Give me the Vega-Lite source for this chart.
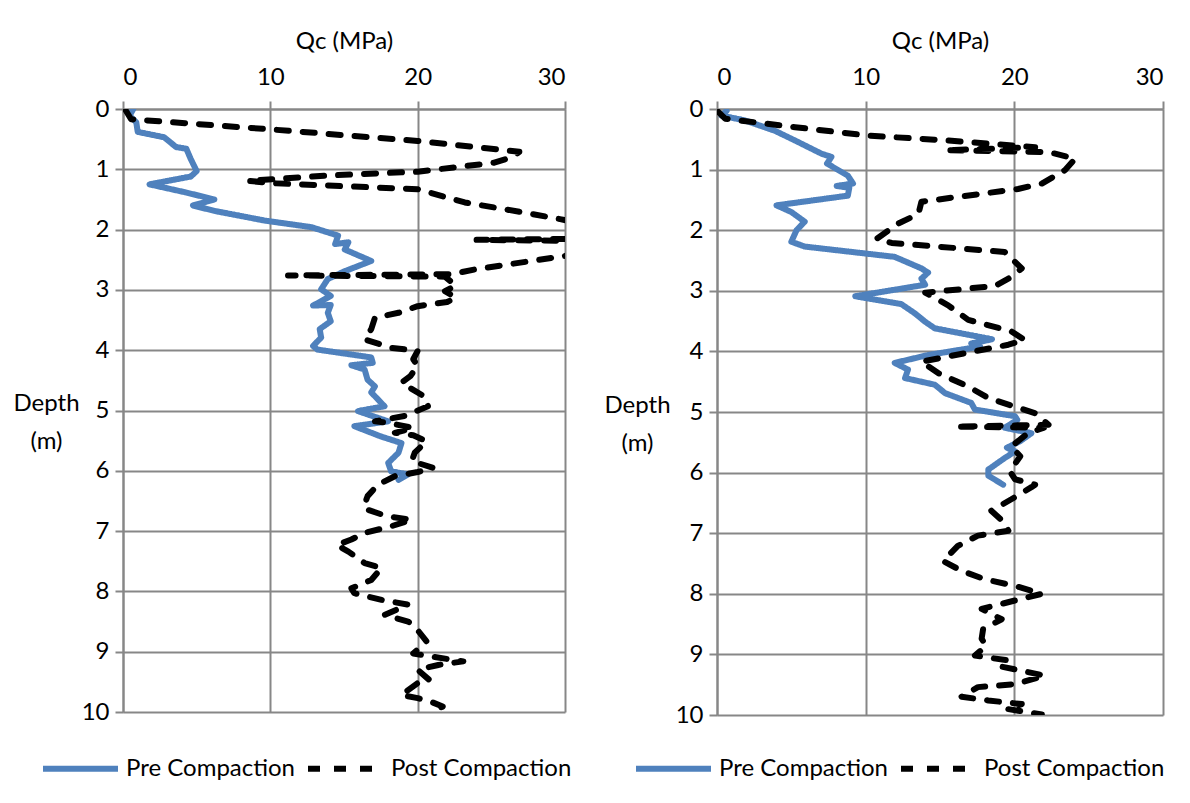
{
  "$schema": "https://vega.github.io/schema/vega-lite/v6.json",
  "padding": {"left": 12, "top": 29, "right": 5, "bottom": 5},
  "background": "white",
  "config": {
    "font": "Lato",
    "view": {"stroke": null},
    "axis": {
      "labelFont": "Lato", "labelFontSize": 24, "labelColor": "#000000",
      "titleFont": "Lato", "titleFontSize": 24, "titleFontWeight": "normal", "titleColor": "#000000",
      "gridColor": "#878787", "gridWidth": 2, "gridOpacity": 1,
      "domainColor": "#878787", "domainWidth": 2,
      "tickColor": "#878787", "tickWidth": 2, "tickSize": 8
    },
    "legend": {
      "labelFont": "Lato", "labelFontSize": 24, "labelColor": "#000000", "labelLimit": 300
    },
    "concat": {"spacing": 31}
  },
  "datasets": {
    "left": [
      {"s": "Pre Compaction", "q": 0.7, "d": 0},
      {"s": "Pre Compaction", "q": 0.45, "d": 0.11},
      {"s": "Pre Compaction", "q": 0.9, "d": 0.22},
      {"s": "Pre Compaction", "q": 1.0, "d": 0.38},
      {"s": "Pre Compaction", "q": 2.8, "d": 0.47},
      {"s": "Pre Compaction", "q": 3.6, "d": 0.63},
      {"s": "Pre Compaction", "q": 4.3, "d": 0.66},
      {"s": "Pre Compaction", "q": 4.6, "d": 0.83},
      {"s": "Pre Compaction", "q": 5.0, "d": 1.03},
      {"s": "Pre Compaction", "q": 4.6, "d": 1.12},
      {"s": "Pre Compaction", "q": 1.8, "d": 1.25},
      {"s": "Pre Compaction", "q": 4.2, "d": 1.38},
      {"s": "Pre Compaction", "q": 6.2, "d": 1.5},
      {"s": "Pre Compaction", "q": 4.75, "d": 1.6},
      {"s": "Pre Compaction", "q": 6.2, "d": 1.69},
      {"s": "Pre Compaction", "q": 9.6, "d": 1.85},
      {"s": "Pre Compaction", "q": 12.8, "d": 1.96},
      {"s": "Pre Compaction", "q": 14.6, "d": 2.1},
      {"s": "Pre Compaction", "q": 14.4, "d": 2.24},
      {"s": "Pre Compaction", "q": 15.3, "d": 2.21},
      {"s": "Pre Compaction", "q": 15.05, "d": 2.33},
      {"s": "Pre Compaction", "q": 16.85, "d": 2.52},
      {"s": "Pre Compaction", "q": 15.05, "d": 2.69},
      {"s": "Pre Compaction", "q": 13.9, "d": 2.82},
      {"s": "Pre Compaction", "q": 13.45, "d": 2.99},
      {"s": "Pre Compaction", "q": 14.1, "d": 3.1},
      {"s": "Pre Compaction", "q": 12.9, "d": 3.26},
      {"s": "Pre Compaction", "q": 14.1, "d": 3.25},
      {"s": "Pre Compaction", "q": 13.9, "d": 3.38},
      {"s": "Pre Compaction", "q": 14.1, "d": 3.52},
      {"s": "Pre Compaction", "q": 13.35, "d": 3.65},
      {"s": "Pre Compaction", "q": 13.45, "d": 3.79},
      {"s": "Pre Compaction", "q": 12.9, "d": 3.93},
      {"s": "Pre Compaction", "q": 13.2, "d": 3.99},
      {"s": "Pre Compaction", "q": 16.85, "d": 4.12},
      {"s": "Pre Compaction", "q": 16.95, "d": 4.21},
      {"s": "Pre Compaction", "q": 15.5, "d": 4.25},
      {"s": "Pre Compaction", "q": 16.4, "d": 4.32},
      {"s": "Pre Compaction", "q": 16.6, "d": 4.49},
      {"s": "Pre Compaction", "q": 17.1, "d": 4.6},
      {"s": "Pre Compaction", "q": 16.85, "d": 4.7},
      {"s": "Pre Compaction", "q": 17.75, "d": 4.93},
      {"s": "Pre Compaction", "q": 15.95, "d": 5.01},
      {"s": "Pre Compaction", "q": 18.0, "d": 5.18},
      {"s": "Pre Compaction", "q": 15.7, "d": 5.26},
      {"s": "Pre Compaction", "q": 17.5, "d": 5.43},
      {"s": "Pre Compaction", "q": 18.9, "d": 5.54},
      {"s": "Pre Compaction", "q": 18.7, "d": 5.7},
      {"s": "Pre Compaction", "q": 18.0, "d": 5.87},
      {"s": "Pre Compaction", "q": 18.2, "d": 6.01},
      {"s": "Pre Compaction", "q": 19.35, "d": 6.06},
      {"s": "Pre Compaction", "q": 18.7, "d": 6.15},
      {"s": "Post Compaction", "q": 0.2, "d": 0.03},
      {"s": "Post Compaction", "q": 0.55, "d": 0.17},
      {"s": "Post Compaction", "q": 9.6, "d": 0.33},
      {"s": "Post Compaction", "q": 20.0, "d": 0.53},
      {"s": "Post Compaction", "q": 25.0, "d": 0.66},
      {"s": "Post Compaction", "q": 26.9, "d": 0.71},
      {"s": "Post Compaction", "q": 26.4, "d": 0.8},
      {"s": "Post Compaction", "q": 25.2, "d": 0.89},
      {"s": "Post Compaction", "q": 20.0, "d": 1.04},
      {"s": "Post Compaction", "q": 14.1, "d": 1.1},
      {"s": "Post Compaction", "q": 8.5, "d": 1.19},
      {"s": "Post Compaction", "q": 10.05, "d": 1.23},
      {"s": "Post Compaction", "q": 20.0, "d": 1.33},
      {"s": "Post Compaction", "q": 23.2, "d": 1.55},
      {"s": "Post Compaction", "q": 27.3, "d": 1.72},
      {"s": "Post Compaction", "q": 29.75, "d": 1.83},
      {"s": "Post Compaction", "q": 32, "d": 1.95},
      {"s": "Post Compaction", "q": 32, "d": 2.15},
      {"s": "Post Compaction", "q": 24.0, "d": 2.17},
      {"s": "Post Compaction", "q": 32, "d": 2.19},
      {"s": "Post Compaction", "q": 32, "d": 2.35},
      {"s": "Post Compaction", "q": 29.9, "d": 2.44},
      {"s": "Post Compaction", "q": 23.9, "d": 2.66},
      {"s": "Post Compaction", "q": 22.3, "d": 2.74},
      {"s": "Post Compaction", "q": 11.2, "d": 2.76},
      {"s": "Post Compaction", "q": 21.85, "d": 2.78},
      {"s": "Post Compaction", "q": 22.6, "d": 2.93},
      {"s": "Post Compaction", "q": 21.85, "d": 3.02},
      {"s": "Post Compaction", "q": 22.6, "d": 3.13},
      {"s": "Post Compaction", "q": 22.0, "d": 3.2},
      {"s": "Post Compaction", "q": 20.0, "d": 3.27},
      {"s": "Post Compaction", "q": 18.7, "d": 3.38},
      {"s": "Post Compaction", "q": 17.1, "d": 3.46},
      {"s": "Post Compaction", "q": 16.85, "d": 3.65},
      {"s": "Post Compaction", "q": 16.4, "d": 3.82},
      {"s": "Post Compaction", "q": 18.2, "d": 3.96},
      {"s": "Post Compaction", "q": 20.0, "d": 4.01},
      {"s": "Post Compaction", "q": 19.7, "d": 4.15},
      {"s": "Post Compaction", "q": 20.0, "d": 4.26},
      {"s": "Post Compaction", "q": 19.5, "d": 4.43},
      {"s": "Post Compaction", "q": 18.9, "d": 4.54},
      {"s": "Post Compaction", "q": 20.6, "d": 4.79},
      {"s": "Post Compaction", "q": 20.7, "d": 4.93},
      {"s": "Post Compaction", "q": 19.1, "d": 5.09},
      {"s": "Post Compaction", "q": 17.1, "d": 5.18},
      {"s": "Post Compaction", "q": 17.9, "d": 5.2},
      {"s": "Post Compaction", "q": 19.7, "d": 5.29},
      {"s": "Post Compaction", "q": 18.45, "d": 5.37},
      {"s": "Post Compaction", "q": 19.7, "d": 5.41},
      {"s": "Post Compaction", "q": 20.6, "d": 5.51},
      {"s": "Post Compaction", "q": 19.8, "d": 5.7},
      {"s": "Post Compaction", "q": 19.6, "d": 5.84},
      {"s": "Post Compaction", "q": 21.05, "d": 5.95},
      {"s": "Post Compaction", "q": 20.0, "d": 6.02},
      {"s": "Post Compaction", "q": 18.45, "d": 6.09},
      {"s": "Post Compaction", "q": 17.3, "d": 6.23},
      {"s": "Post Compaction", "q": 16.6, "d": 6.42},
      {"s": "Post Compaction", "q": 16.4, "d": 6.56},
      {"s": "Post Compaction", "q": 16.4, "d": 6.63},
      {"s": "Post Compaction", "q": 18.0, "d": 6.76},
      {"s": "Post Compaction", "q": 19.6, "d": 6.81},
      {"s": "Post Compaction", "q": 18.2, "d": 6.92},
      {"s": "Post Compaction", "q": 16.4, "d": 7.03},
      {"s": "Post Compaction", "q": 15.5, "d": 7.14},
      {"s": "Post Compaction", "q": 14.5, "d": 7.23},
      {"s": "Post Compaction", "q": 15.3, "d": 7.34},
      {"s": "Post Compaction", "q": 16.4, "d": 7.53},
      {"s": "Post Compaction", "q": 17.55, "d": 7.61},
      {"s": "Post Compaction", "q": 16.85, "d": 7.81},
      {"s": "Post Compaction", "q": 15.5, "d": 7.95},
      {"s": "Post Compaction", "q": 15.7, "d": 8.03},
      {"s": "Post Compaction", "q": 17.55, "d": 8.14},
      {"s": "Post Compaction", "q": 19.35, "d": 8.22},
      {"s": "Post Compaction", "q": 17.75, "d": 8.39},
      {"s": "Post Compaction", "q": 19.35, "d": 8.5},
      {"s": "Post Compaction", "q": 19.8, "d": 8.58},
      {"s": "Post Compaction", "q": 20.6, "d": 8.83},
      {"s": "Post Compaction", "q": 19.7, "d": 9.03},
      {"s": "Post Compaction", "q": 20.9, "d": 9.08},
      {"s": "Post Compaction", "q": 23.1, "d": 9.16},
      {"s": "Post Compaction", "q": 21.4, "d": 9.22},
      {"s": "Post Compaction", "q": 20.0, "d": 9.3},
      {"s": "Post Compaction", "q": 20.8, "d": 9.47},
      {"s": "Post Compaction", "q": 20.0, "d": 9.52},
      {"s": "Post Compaction", "q": 18.9, "d": 9.72},
      {"s": "Post Compaction", "q": 20.0, "d": 9.77},
      {"s": "Post Compaction", "q": 20.9, "d": 9.83},
      {"s": "Post Compaction", "q": 21.7, "d": 9.91},
      {"s": "Post Compaction", "q": 21.05, "d": 9.97}
    ],
    "right": [
      {"s": "Pre Compaction", "q": 0.65, "d": 0.03},
      {"s": "Pre Compaction", "q": 0.3, "d": 0.11},
      {"s": "Pre Compaction", "q": 1.9, "d": 0.19},
      {"s": "Pre Compaction", "q": 3.9, "d": 0.36},
      {"s": "Pre Compaction", "q": 5.25, "d": 0.52},
      {"s": "Pre Compaction", "q": 7.05, "d": 0.74},
      {"s": "Pre Compaction", "q": 7.7, "d": 0.79},
      {"s": "Pre Compaction", "q": 7.4, "d": 0.9},
      {"s": "Pre Compaction", "q": 8.8, "d": 1.1},
      {"s": "Pre Compaction", "q": 9.15, "d": 1.23},
      {"s": "Pre Compaction", "q": 8.05, "d": 1.27},
      {"s": "Pre Compaction", "q": 8.9, "d": 1.3},
      {"s": "Pre Compaction", "q": 8.8, "d": 1.43},
      {"s": "Pre Compaction", "q": 4.0, "d": 1.59},
      {"s": "Pre Compaction", "q": 5.0, "d": 1.7},
      {"s": "Pre Compaction", "q": 5.9, "d": 1.86},
      {"s": "Pre Compaction", "q": 5.35, "d": 2.0},
      {"s": "Pre Compaction", "q": 5.0, "d": 2.19},
      {"s": "Pre Compaction", "q": 5.9, "d": 2.27},
      {"s": "Pre Compaction", "q": 11.95, "d": 2.44},
      {"s": "Pre Compaction", "q": 13.75, "d": 2.63},
      {"s": "Pre Compaction", "q": 14.2, "d": 2.7},
      {"s": "Pre Compaction", "q": 13.75, "d": 2.8},
      {"s": "Pre Compaction", "q": 14.0, "d": 2.9},
      {"s": "Pre Compaction", "q": 9.3, "d": 3.09},
      {"s": "Pre Compaction", "q": 12.4, "d": 3.22},
      {"s": "Pre Compaction", "q": 13.3, "d": 3.37},
      {"s": "Pre Compaction", "q": 14.0, "d": 3.51},
      {"s": "Pre Compaction", "q": 14.65, "d": 3.62},
      {"s": "Pre Compaction", "q": 18.5, "d": 3.8},
      {"s": "Pre Compaction", "q": 17.1, "d": 3.87},
      {"s": "Pre Compaction", "q": 17.7, "d": 3.92},
      {"s": "Pre Compaction", "q": 14.2, "d": 4.06},
      {"s": "Pre Compaction", "q": 11.95, "d": 4.19},
      {"s": "Pre Compaction", "q": 12.85, "d": 4.3},
      {"s": "Pre Compaction", "q": 12.65, "d": 4.44},
      {"s": "Pre Compaction", "q": 14.65, "d": 4.55},
      {"s": "Pre Compaction", "q": 15.35, "d": 4.69},
      {"s": "Pre Compaction", "q": 17.1, "d": 4.85},
      {"s": "Pre Compaction", "q": 17.35, "d": 4.96},
      {"s": "Pre Compaction", "q": 20.05, "d": 5.07},
      {"s": "Pre Compaction", "q": 20.2, "d": 5.13},
      {"s": "Pre Compaction", "q": 19.35, "d": 5.26},
      {"s": "Pre Compaction", "q": 21.15, "d": 5.35},
      {"s": "Pre Compaction", "q": 20.4, "d": 5.48},
      {"s": "Pre Compaction", "q": 19.5, "d": 5.59},
      {"s": "Pre Compaction", "q": 20.05, "d": 5.65},
      {"s": "Pre Compaction", "q": 19.35, "d": 5.76},
      {"s": "Pre Compaction", "q": 18.25, "d": 5.95},
      {"s": "Pre Compaction", "q": 18.25, "d": 6.05},
      {"s": "Pre Compaction", "q": 19.25, "d": 6.2},
      {"s": "Post Compaction", "q": 0.1, "d": 0.05},
      {"s": "Post Compaction", "q": 0.55, "d": 0.16},
      {"s": "Post Compaction", "q": 5.25, "d": 0.3},
      {"s": "Post Compaction", "q": 10.2, "d": 0.44},
      {"s": "Post Compaction", "q": 15.55, "d": 0.52},
      {"s": "Post Compaction", "q": 21.4, "d": 0.63},
      {"s": "Post Compaction", "q": 15.35, "d": 0.68},
      {"s": "Post Compaction", "q": 22.3, "d": 0.71},
      {"s": "Post Compaction", "q": 24.1, "d": 0.82},
      {"s": "Post Compaction", "q": 23.4, "d": 1.01},
      {"s": "Post Compaction", "q": 21.85, "d": 1.23},
      {"s": "Post Compaction", "q": 20.25, "d": 1.32},
      {"s": "Post Compaction", "q": 13.75, "d": 1.53},
      {"s": "Post Compaction", "q": 13.55, "d": 1.73},
      {"s": "Post Compaction", "q": 12.2, "d": 1.89},
      {"s": "Post Compaction", "q": 10.75, "d": 2.14},
      {"s": "Post Compaction", "q": 11.75, "d": 2.21},
      {"s": "Post Compaction", "q": 19.35, "d": 2.36},
      {"s": "Post Compaction", "q": 20.5, "d": 2.63},
      {"s": "Post Compaction", "q": 19.6, "d": 2.8},
      {"s": "Post Compaction", "q": 18.7, "d": 2.92},
      {"s": "Post Compaction", "q": 14.0, "d": 3.03},
      {"s": "Post Compaction", "q": 15.55, "d": 3.24},
      {"s": "Post Compaction", "q": 16.9, "d": 3.48},
      {"s": "Post Compaction", "q": 19.8, "d": 3.67},
      {"s": "Post Compaction", "q": 20.7, "d": 3.81},
      {"s": "Post Compaction", "q": 19.6, "d": 3.89},
      {"s": "Post Compaction", "q": 13.75, "d": 4.17},
      {"s": "Post Compaction", "q": 14.9, "d": 4.36},
      {"s": "Post Compaction", "q": 16.9, "d": 4.58},
      {"s": "Post Compaction", "q": 18.25, "d": 4.77},
      {"s": "Post Compaction", "q": 21.4, "d": 5.02},
      {"s": "Post Compaction", "q": 22.3, "d": 5.21},
      {"s": "Post Compaction", "q": 16.0, "d": 5.24},
      {"s": "Post Compaction", "q": 22.0, "d": 5.26},
      {"s": "Post Compaction", "q": 20.9, "d": 5.35},
      {"s": "Post Compaction", "q": 19.8, "d": 5.57},
      {"s": "Post Compaction", "q": 20.4, "d": 5.73},
      {"s": "Post Compaction", "q": 19.7, "d": 5.98},
      {"s": "Post Compaction", "q": 20.05, "d": 6.11},
      {"s": "Post Compaction", "q": 21.4, "d": 6.2},
      {"s": "Post Compaction", "q": 21.15, "d": 6.24},
      {"s": "Post Compaction", "q": 19.8, "d": 6.44},
      {"s": "Post Compaction", "q": 18.45, "d": 6.63},
      {"s": "Post Compaction", "q": 19.35, "d": 6.83},
      {"s": "Post Compaction", "q": 19.6, "d": 6.96},
      {"s": "Post Compaction", "q": 17.55, "d": 7.04},
      {"s": "Post Compaction", "q": 16.2, "d": 7.21},
      {"s": "Post Compaction", "q": 15.2, "d": 7.46},
      {"s": "Post Compaction", "q": 16.45, "d": 7.62},
      {"s": "Post Compaction", "q": 18.0, "d": 7.76},
      {"s": "Post Compaction", "q": 20.05, "d": 7.87},
      {"s": "Post Compaction", "q": 21.85, "d": 8.0},
      {"s": "Post Compaction", "q": 20.05, "d": 8.11},
      {"s": "Post Compaction", "q": 17.8, "d": 8.25},
      {"s": "Post Compaction", "q": 19.15, "d": 8.42},
      {"s": "Post Compaction", "q": 17.9, "d": 8.58},
      {"s": "Post Compaction", "q": 17.8, "d": 8.74},
      {"s": "Post Compaction", "q": 18.1, "d": 8.86},
      {"s": "Post Compaction", "q": 17.35, "d": 9.02},
      {"s": "Post Compaction", "q": 19.6, "d": 9.1},
      {"s": "Post Compaction", "q": 19.1, "d": 9.2},
      {"s": "Post Compaction", "q": 22.05, "d": 9.35},
      {"s": "Post Compaction", "q": 20.05, "d": 9.49},
      {"s": "Post Compaction", "q": 17.55, "d": 9.54},
      {"s": "Post Compaction", "q": 16.45, "d": 9.7},
      {"s": "Post Compaction", "q": 18.25, "d": 9.76},
      {"s": "Post Compaction", "q": 20.5, "d": 9.82},
      {"s": "Post Compaction", "q": 19.5, "d": 9.9},
      {"s": "Post Compaction", "q": 21.85, "d": 9.99}
    ]
  },
  "hconcat": [
    {
      "width": 442,
      "height": 603,
      "data": {"name": "left"},
      "mark": {"type": "line", "strokeWidth": 6, "strokeCap": "round", "strokeJoin": "round", "clip": true},
      "encoding": {
        "x": {"field": "q", "type": "quantitative", "scale": {"domain": [0, 30], "nice": false},
              "axis": {"orient": "top", "values": [0, 10, 20, 30], "title": "Qc (MPa)", "labelPadding": 12, "titlePadding": 12}},
        "y": {"field": "d", "type": "quantitative", "scale": {"domain": [0, 10], "reverse": true, "nice": false},
              "axis": {"values": [0, 1, 2, 3, 4, 5, 6, 7, 8, 9, 10], "title": ["Depth", "(m)"], "titleAngle": 0, "titleAlign": "center", "titleBaseline": "middle", "titleX": -77, "titleY": 294, "titleLineHeight": 38, "labelPadding": 6}},
        "color": {"field": "s", "type": "nominal", "scale": {"domain": ["Pre Compaction", "Post Compaction"], "range": ["#4F81BD", "#000000"]},
                  "legend": {"title": null, "orient": "none", "legendX": -83, "legendY": 619, "direction": "horizontal", "symbolType": "stroke", "symbolSize": 5625, "symbolStrokeWidth": 6, "labelOffset": 5, "columnPadding": 0}},
        "strokeDash": {"field": "s", "type": "nominal", "scale": {"domain": ["Pre Compaction", "Post Compaction"], "range": [[1, 0], [12, 14]]},
                  "legend": {"title": null, "orient": "none", "legendX": -83, "legendY": 619, "direction": "horizontal", "symbolType": "stroke", "symbolSize": 5625, "symbolStrokeWidth": 6, "labelOffset": 5, "columnPadding": 0}},
        "order": {"value": null}
      }
    },
    {
      "width": 446,
      "height": 606,
      "data": {"name": "right"},
      "mark": {"type": "line", "strokeWidth": 6, "strokeCap": "round", "strokeJoin": "round", "clip": true},
      "encoding": {
        "x": {"field": "q", "type": "quantitative", "scale": {"domain": [0, 30], "nice": false},
              "axis": {"orient": "top", "values": [0, 10, 20, 30], "title": "Qc (MPa)", "labelPadding": 12, "titlePadding": 12}},
        "y": {"field": "d", "type": "quantitative", "scale": {"domain": [0, 10], "reverse": true, "nice": false},
              "axis": {"values": [0, 1, 2, 3, 4, 5, 6, 7, 8, 9, 10], "title": ["Depth", "(m)"], "titleAngle": 0, "titleAlign": "center", "titleBaseline": "middle", "titleX": -80, "titleY": 296, "titleLineHeight": 38, "labelPadding": 6}},
        "color": {"field": "s", "type": "nominal", "scale": {"domain": ["Pre Compaction", "Post Compaction"], "range": ["#4F81BD", "#000000"]},
                  "legend": {"title": null, "orient": "none", "legendX": -84, "legendY": 619, "direction": "horizontal", "symbolType": "stroke", "symbolSize": 5625, "symbolStrokeWidth": 6, "labelOffset": 5, "columnPadding": 0}},
        "strokeDash": {"field": "s", "type": "nominal", "scale": {"domain": ["Pre Compaction", "Post Compaction"], "range": [[1, 0], [12, 14]]},
                  "legend": {"title": null, "orient": "none", "legendX": -84, "legendY": 619, "direction": "horizontal", "symbolType": "stroke", "symbolSize": 5625, "symbolStrokeWidth": 6, "labelOffset": 5, "columnPadding": 0}},
        "order": {"value": null}
      }
    }
  ],
  "resolve": {
    "scale": {"x": "independent", "y": "independent", "color": "independent", "strokeDash": "independent"},
    "legend": {"color": "independent", "strokeDash": "independent"}
  }
}
